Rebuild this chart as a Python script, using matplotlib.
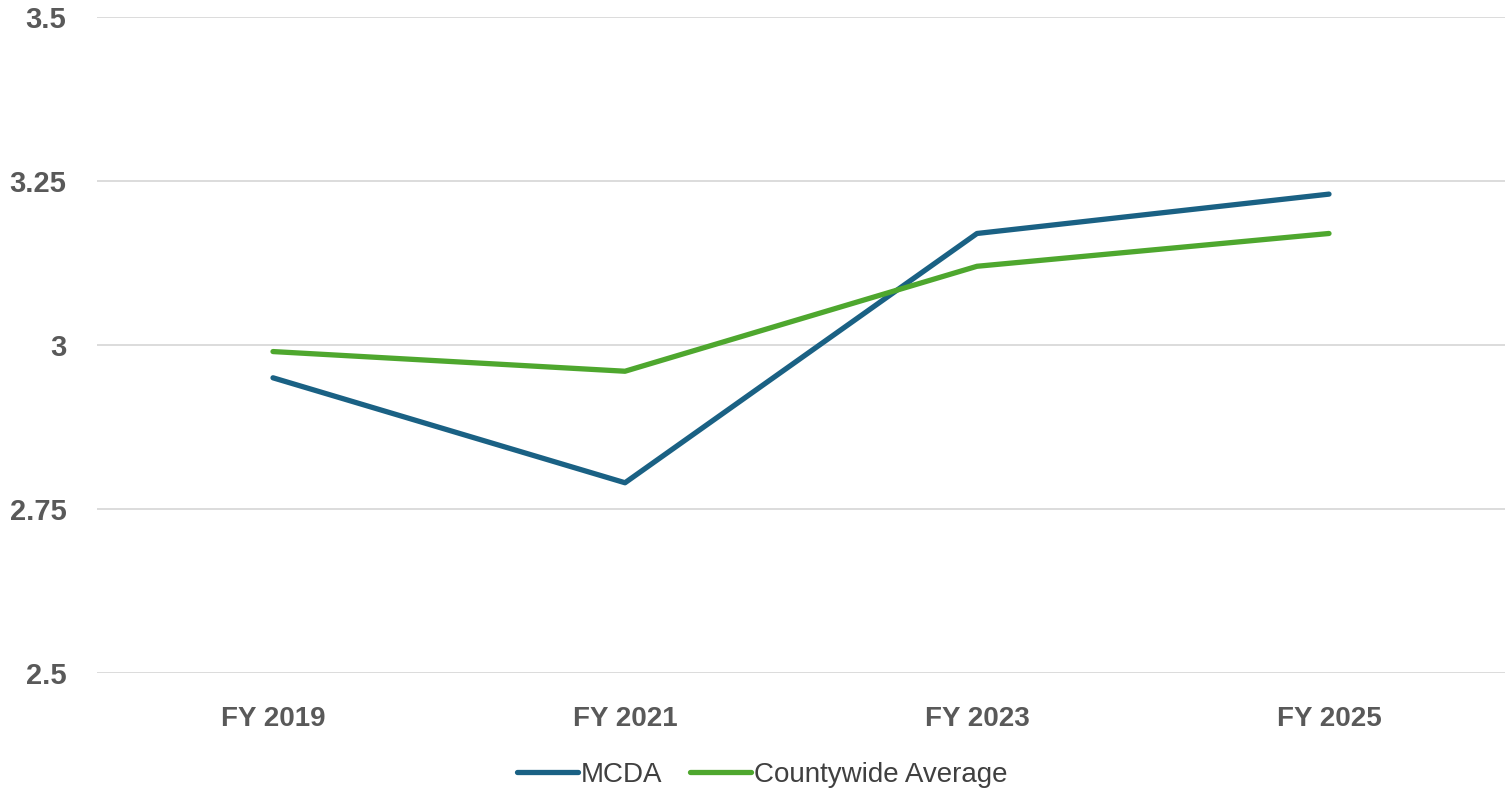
import matplotlib
matplotlib.use('Agg')
import matplotlib.pyplot as plt

years=['FY 2019','FY 2021','FY 2023','FY 2025']
mcda=[2.95,2.79,3.17,3.23]
county=[2.99,2.96,3.12,3.17]
yticks=[2.5,2.75,3,3.25,3.5]
yticklabels=['2.5','2.75','3','3.25','3.5']

plt.rcParams['font.family']=['Liberation Sans','DejaVu Sans']
fig=plt.figure(figsize=(15.05,7.93),dpi=100)
ax=fig.add_axes([97/1505,1-673/793,1-97/1505,(673-17)/793])
x=list(range(len(years)))
ax.plot(x,mcda,color='#1a6184',lw=3.8,solid_capstyle='round',solid_joinstyle='round',label='MCDA',zorder=3)
ax.plot(x,county,color='#4ea72e',lw=3.8,solid_capstyle='round',solid_joinstyle='round',label='Countywide Average',zorder=3)
ax.set_xlim(-0.5,3.5)
ax.set_ylim(2.5,3.5)
ax.set_yticks(yticks)
ax.set_yticklabels(yticklabels,fontsize=21,fontweight='bold',color='#595959')
ax.set_xticks(x)
ax.set_xticklabels(years,fontsize=20,fontweight='bold',color='#595959')
ax.tick_params(axis='both',length=0)
ax.tick_params(axis='y',pad=22)
ax.tick_params(axis='x',pad=24)
ax.grid(axis='y',color='#d9d9d9',lw=1.3)
ax.set_axisbelow(True)
for s in ax.spines.values():
    s.set_visible(False)
leg=fig.legend(loc='center',bbox_to_anchor=(762/1505,1-775/793),ncol=2,frameon=False,
               fontsize=20,handlelength=2.2,handletextpad=0.1,columnspacing=1.0)
for t in leg.get_texts():
    t.set_color('#404040')
fig.savefig('out.png',dpi=100)
